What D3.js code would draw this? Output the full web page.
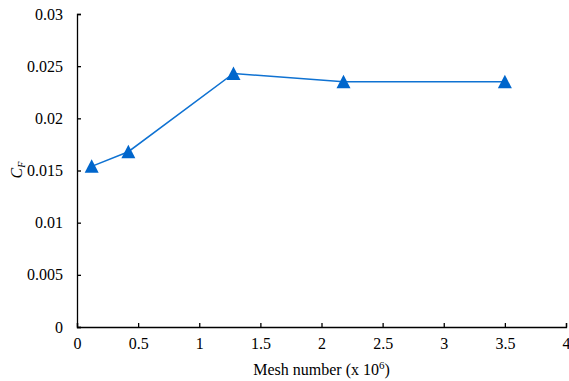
<!DOCTYPE html>
<html>
<head>
<meta charset="utf-8">
<script src="https://cdn.jsdelivr.net/npm/d3@7"></script>
</head>
<body style="margin:0; background:#fff">
<svg id="chart" width="569" height="381"></svg>
<script>
// mesh number (x 10^6) and friction coefficient
var meshNumber = [0.12, 0.42, 1.28, 2.18, 3.5];
var cfValues = [0.0154, 0.0168, 0.0243, 0.0235, 0.0235];
var xTicks = [0, 0.5, 1, 1.5, 2, 2.5, 3, 3.5, 4];
var yTicks = [0, 0.005, 0.01, 0.015, 0.02, 0.025, 0.03];

var FONT = "Liberation Serif";

var svg = d3.select("#chart");
var margin = { top: 14, right: 3, bottom: 54, left: 77 };
var width = +svg.attr("width") - margin.left - margin.right;
var height = +svg.attr("height") - margin.top - margin.bottom;
var g = svg.append("g").attr("transform", "translate(" + margin.left + "," + margin.top + ")");

var x = d3.scaleLinear().domain([0, 4]).range([0, width]);
var y = d3.scaleLinear().domain([0, 0.03]).range([height, 0]);

var xAxis = g.append("g")
    .attr("transform", "translate(0," + height + ")")
    .call(d3.axisBottom(x).tickValues(xTicks).tickSize(-4).tickPadding(11)
        .tickFormat(function (d) { return String(d); }));
var yAxis = g.append("g")
    .call(d3.axisLeft(y).tickValues(yTicks).tickSize(-4).tickPadding(14)
        .tickFormat(function (d) { return String(d); }));

xAxis.attr("font-family", FONT).attr("font-size", 16);
yAxis.attr("font-family", FONT).attr("font-size", 16);
xAxis.select(".domain").attr("stroke", "#000").attr("stroke-width", 1.3);
yAxis.select(".domain").attr("stroke", "#000").attr("stroke-width", 1.3);
svg.selectAll(".tick line").attr("stroke", "#000").attr("stroke-width", 1.3);
svg.selectAll(".tick text").attr("fill", "#000");

var data = meshNumber.map(function (m, i) { return { m: m, cf: cfValues[i] }; });

g.append("path")
    .datum(data)
    .attr("fill", "none")
    .attr("stroke", "#0f72d2")
    .attr("stroke-width", 1.5)
    .attr("d", d3.line().x(function (d) { return x(d.m); }).y(function (d) { return y(d.cf); }));

g.selectAll(".marker")
    .data(data)
    .enter().append("path")
    .attr("class", "marker")
    .attr("fill", "#0066cc")
    .attr("transform", function (d) { return "translate(" + x(d.m) + "," + y(d.cf) + ")"; })
    .attr("d", "M0,-7L7,6.5L-7,6.5Z");

// axis titles
var xt = svg.append("text")
    .attr("x", margin.left + width / 2)
    .attr("y", 375)
    .attr("text-anchor", "middle")
    .attr("font-size", 16)
    .attr("font-family", FONT)
    .attr("fill", "#000");
xt.append("tspan").text("Mesh number (x 10");
xt.append("tspan").attr("font-size", 11).attr("dy", -6).text("6");
xt.append("tspan").attr("dy", 6).text(")");

var yt = svg.append("text")
    .attr("transform", "translate(22,170) rotate(-90)")
    .attr("text-anchor", "middle")
    .attr("font-size", 16)
    .attr("font-style", "italic")
    .attr("font-family", FONT)
    .attr("fill", "#000");
yt.append("tspan").text("C");
yt.append("tspan").attr("font-size", 10).attr("dy", 3).text("F");
</script>
</body>
</html>
